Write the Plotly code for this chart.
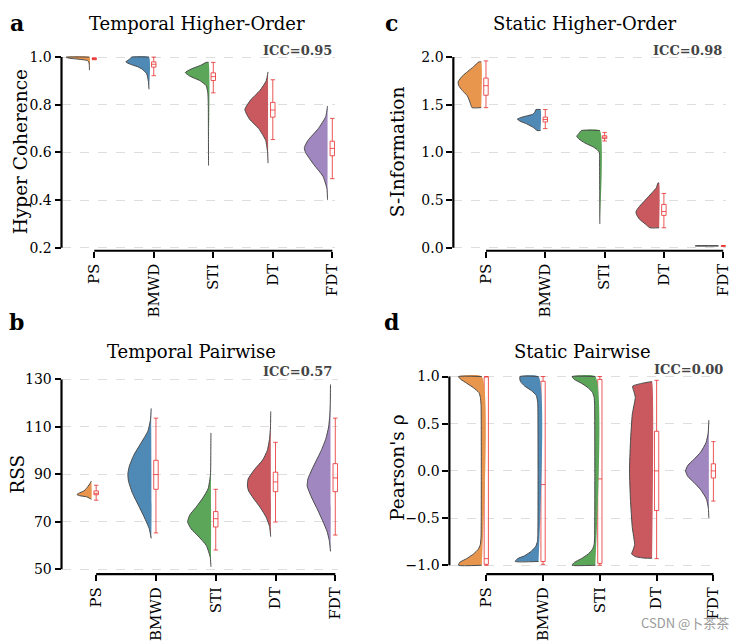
import plotly.graph_objects as go

# ---------------- data ----------------
categories = ["PS", "BMWD", "STI", "DT", "FDT"]
colors = ["#E8964E", "#4F89B6", "#5CA65A", "#C9595E", "#A087BF"]

# Panel a: Temporal Higher-Order (Hyper Coherence) - violin density profiles (y, relative width)
thc_ps_y = [0.945, 0.97, 0.98, 0.985, 0.988, 0.991, 0.994, 0.997, 1.0]
thc_ps_w = [0.0, 0.01, 0.03, 0.08, 0.2, 0.45, 0.75, 0.95, 1.0]
thc_bmwd_y = [0.865, 0.9, 0.93, 0.95, 0.96, 0.97, 0.98, 0.99, 1.0]
thc_bmwd_w = [0.0, 0.03, 0.1, 0.3, 0.5, 0.8, 1.0, 0.85, 0.75]
thc_sti_y = [0.545, 0.7, 0.8, 0.85, 0.88, 0.9, 0.92, 0.935, 0.95, 0.965, 0.978]
thc_sti_w = [0.0, 0.005, 0.01, 0.03, 0.1, 0.35, 0.8, 1.0, 0.75, 0.35, 0.1]
thc_dt_y = [0.555, 0.6, 0.65, 0.7, 0.74, 0.78, 0.82, 0.86, 0.9, 0.938]
thc_dt_w = [0.0, 0.02, 0.1, 0.4, 0.8, 1.0, 0.75, 0.35, 0.08, 0.0]
thc_fdt_y = [0.4, 0.45, 0.5, 0.55, 0.6, 0.62, 0.65, 0.7, 0.75, 0.795]
thc_fdt_w = [0.0, 0.03, 0.2, 0.6, 0.95, 1.0, 0.85, 0.4, 0.08, 0.0]
thc_q1 = [0.991, 0.958, 0.902, 0.748, 0.586]
thc_med = [0.993, 0.970, 0.918, 0.778, 0.617]
thc_q3 = [0.995, 0.980, 0.934, 0.810, 0.647]
thc_lo = [0.989, 0.922, 0.850, 0.654, 0.490]
thc_hi = [0.997, 1.000, 0.978, 0.905, 0.743]

# Panel b: Temporal Pairwise (RSS)
rss_ps_y = [79.5, 80.5, 81, 81.5, 82, 83, 84, 85, 86, 87.2]
rss_ps_w = [0.0, 0.2, 0.5, 0.62, 0.55, 0.32, 0.22, 0.14, 0.07, 0.0]
rss_bmwd_y = [63, 67, 72, 77, 82, 87, 90, 93, 98, 103, 108, 113, 117.8]
rss_bmwd_w = [0.0, 0.08, 0.3, 0.55, 0.8, 0.97, 1.0, 0.95, 0.75, 0.45, 0.15, 0.03, 0.0]
rss_sti_y = [51, 55, 60, 64, 67, 70, 73, 76, 80, 84, 90, 100, 107.5]
rss_sti_w = [0.0, 0.03, 0.2, 0.55, 0.85, 1.0, 0.9, 0.65, 0.35, 0.12, 0.02, 0.005, 0.0]
rss_dt_y = [63.7, 68, 72, 76, 80, 83, 85, 88, 92, 96, 100, 105, 110, 116.5]
rss_dt_w = [0.0, 0.05, 0.2, 0.45, 0.75, 0.95, 1.0, 0.97, 0.7, 0.35, 0.15, 0.05, 0.01, 0.0]
rss_fdt_y = [57.5, 62, 66, 70, 75, 80, 85, 88, 92, 96, 100, 105, 110, 115, 120, 127.9]
rss_fdt_w = [0.0, 0.05, 0.15, 0.32, 0.55, 0.8, 1.0, 0.97, 0.8, 0.6, 0.4, 0.2, 0.08, 0.03, 0.01, 0.0]
rss_q1 = [81.4, 83.7, 67.8, 82.7, 82.7]
rss_med = [82.0, 89.9, 71.3, 86.8, 88.5]
rss_q3 = [83.0, 95.9, 74.3, 90.9, 94.5]
rss_lo = [79.1, 65.3, 58.1, 69.9, 64.4]
rss_hi = [85.4, 113.7, 83.7, 103.5, 113.7]

# Panel c: Static Higher-Order (S-Information)
sinf_ps_y = [1.47, 1.5, 1.55, 1.6, 1.65, 1.7, 1.74, 1.8, 1.85, 1.9, 1.95]
sinf_ps_w = [0.4, 0.45, 0.52, 0.62, 0.82, 0.97, 1.0, 0.82, 0.58, 0.33, 0.1]
sinf_bmwd_y = [1.23, 1.26, 1.3, 1.33, 1.35, 1.37, 1.4, 1.42, 1.45]
sinf_bmwd_w = [0.15, 0.3, 0.6, 0.9, 1.0, 0.8, 0.35, 0.25, 0.2]
sinf_sti_y = [0.25, 0.6, 0.9, 1.0, 1.03, 1.06, 1.1, 1.14, 1.17, 1.2, 1.23]
sinf_sti_w = [0.0, 0.005, 0.01, 0.02, 0.12, 0.3, 0.65, 0.9, 1.0, 0.9, 0.8]
sinf_dt_y = [0.21, 0.25, 0.3, 0.35, 0.38, 0.42, 0.5, 0.58, 0.63, 0.68]
sinf_dt_w = [0.4, 0.6, 0.85, 0.98, 1.0, 0.9, 0.6, 0.3, 0.12, 0.05]
sinf_fdt_y = [0.019, 0.021]
sinf_fdt_w = [1.0, 1.0]
sinf_q1 = [1.60, 1.32, 1.145, 0.34, 0.02]
sinf_med = [1.70, 1.345, 1.16, 0.38, 0.02]
sinf_q3 = [1.78, 1.37, 1.175, 0.455, 0.02]
sinf_lo = [1.47, 1.25, 1.12, 0.21, 0.02]
sinf_hi = [1.96, 1.45, 1.21, 0.57, 0.02]

# Panel d: Static Pairwise (Pearson's rho)
pr_ps_y = [-1.0, -0.97, -0.93, -0.88, -0.83, -0.78, -0.7, 0.0, 0.7, 0.78, 0.83, 0.88, 0.93, 0.97, 1.0]
pr_ps_w = [1.0, 0.95, 0.65, 0.35, 0.15, 0.06, 0.03, 0.02, 0.03, 0.06, 0.12, 0.35, 0.65, 0.9, 1.0]
pr_bmwd_y = [-0.96, -0.93, -0.9, -0.85, -0.8, -0.75, -0.7, 0.0, 0.7, 0.75, 0.8, 0.85, 0.9, 0.95, 1.0]
pr_bmwd_w = [1.0, 0.9, 0.6, 0.3, 0.12, 0.05, 0.03, 0.02, 0.03, 0.05, 0.1, 0.3, 0.6, 0.78, 0.8]
pr_sti_y = [-1.0, -0.97, -0.93, -0.88, -0.83, -0.78, -0.7, 0.0, 0.7, 0.78, 0.83, 0.88, 0.93, 0.97, 1.0]
pr_sti_w = [1.0, 0.9, 0.6, 0.3, 0.12, 0.05, 0.03, 0.02, 0.03, 0.05, 0.12, 0.3, 0.6, 0.9, 1.0]
pr_dt_y = [-0.925, -0.91, -0.88, -0.84, -0.78, -0.6, -0.3, 0.0, 0.3, 0.6, 0.78, 0.84, 0.88, 0.9, 0.93, 0.945]
pr_dt_w = [0.3, 0.7, 0.88, 0.82, 0.75, 0.85, 0.93, 0.97, 0.93, 0.85, 0.72, 0.78, 0.83, 0.83, 0.4, 0.05]
pr_fdt_y = [-0.5, -0.4, -0.3, -0.2, -0.12, -0.06, 0.0, 0.06, 0.12, 0.2, 0.3, 0.4, 0.54]
pr_fdt_w = [0.0, 0.02, 0.1, 0.35, 0.65, 0.9, 1.0, 0.9, 0.65, 0.35, 0.12, 0.03, 0.0]
pr_q1 = [-0.99, -0.96, -0.98, -0.42, -0.075]
pr_med = [-0.93, -0.145, -0.085, 0.0, 0.0]
pr_q3 = [0.995, 0.95, 0.97, 0.42, 0.075]
pr_lo = [-1.0, -0.99, -1.0, -0.93, -0.32]
pr_hi = [1.0, 1.0, 1.0, 0.96, 0.31]

# ---------------- layout helpers ----------------
W, H = 752, 643
SERIF = "DejaVu Serif"


def fx(p):
    return p / W


def fy(p):
    return 1 - p / H


panels = [
    dict(ax="", letter="a", title="Temporal Higher-Order", ytitle="Hyper Coherence", icc="ICC=0.95",
         violins=[(thc_ps_y, thc_ps_w), (thc_bmwd_y, thc_bmwd_w), (thc_sti_y, thc_sti_w),
                  (thc_dt_y, thc_dt_w), (thc_fdt_y, thc_fdt_w)],
         box=(thc_q1, thc_med, thc_q3, thc_lo, thc_hi),
         xpx=(62, 338), xr=(-0.55, 4.05), ypx=(49.6, 249), yr=(0.1876, 1.0099),
         yt=[0.2, 0.4, 0.6, 0.8, 1.0], ytt=["0.2", "0.4", "0.6", "0.8", "1.0"],
         letter_xy=(17, 17), title_xy=(199, 18), ytitle_xy=(21, 148), icc_xy=(337, 45), vw=0.39),
    dict(ax="2", letter="c", title="Static Higher-Order", ytitle="S-Information", icc="ICC=0.98",
         violins=[(sinf_ps_y, sinf_ps_w), (sinf_bmwd_y, sinf_bmwd_w), (sinf_sti_y, sinf_sti_w),
                  (sinf_dt_y, sinf_dt_w), (sinf_fdt_y, sinf_fdt_w)],
         box=(sinf_q1, sinf_med, sinf_q3, sinf_lo, sinf_hi),
         xpx=(457, 732), xr=(-0.55, 4.05), ypx=(49.6, 249), yr=(-0.0309, 2.0247),
         yt=[0.0, 0.5, 1.0, 1.5, 2.0], ytt=["0.0", "0.5", "1.0", "1.5", "2.0"],
         letter_xy=(395, 17), title_xy=(590, 18), ytitle_xy=(401, 148), icc_xy=(730, 45), vw=0.39),
    dict(ax="3", letter="b", title="Temporal Pairwise", ytitle="RSS", icc="ICC=0.57",
         violins=[(rss_ps_y, rss_ps_w), (rss_bmwd_y, rss_bmwd_w), (rss_sti_y, rss_sti_w),
                  (rss_dt_y, rss_dt_w), (rss_fdt_y, rss_fdt_w)],
         box=(rss_q1, rss_med, rss_q3, rss_lo, rss_hi),
         xpx=(62, 341), xr=(-0.58, 4.05), ypx=(377.6, 578), yr=(47.93, 130.99),
         yt=[50, 70, 90, 110, 130], ytt=["50", "70", "90", "110", "130"],
         letter_xy=(17, 322), title_xy=(193, 352), ytitle_xy=(18, 476), icc_xy=(337, 372), vw=0.39),
    dict(ax="4", letter="d", title="Static Pairwise", ytitle="Pearson's ρ", icc="ICC=0.00",
         violins=[(pr_ps_y, pr_ps_w), (pr_bmwd_y, pr_bmwd_w), (pr_sti_y, pr_sti_w),
                  (pr_dt_y, pr_dt_w), (pr_fdt_y, pr_fdt_w)],
         box=(pr_q1, pr_med, pr_q3, pr_lo, pr_hi),
         xpx=(453, 722), xr=(-0.65, 4.05), ypx=(374.6, 578), yr=(-1.094, 1.025),
         yt=[-1.0, -0.5, 0.0, 0.5, 1.0], ytt=["\u22121.0", "\u22120.5", "0.0", "0.5", "1.0"],
         letter_xy=(395, 322), title_xy=(587, 352), ytitle_xy=(401, 470), icc_xy=(731, 370), vw=0.41),
]

OFF = 0.08  # gap between violin flat edge and category centre
fig = go.Figure()
annotations = []
shapes = []
layout = {}

for p in panels:
    xa = "x" + p["ax"]
    ya = "y" + p["ax"]
    for i, (vy, vw) in enumerate(p["violins"]):
        flat = i - OFF
        cx = [flat - p["vw"] * w for w in vw]
        # filled body
        fig.add_trace(go.Scatter(
            x=cx + [flat, flat], y=list(vy) + [vy[-1], vy[0]],
            fill="toself", fillcolor=colors[i], mode="lines",
            line=dict(width=0, color=colors[i], shape="spline", smoothing=0.5),
            xaxis=xa, yaxis=ya, showlegend=False, hoverinfo="skip"))
        # outline on curved side
        fig.add_trace(go.Scatter(
            x=[flat] + cx + [flat], y=[vy[0]] + list(vy) + [vy[-1]],
            mode="lines", line=dict(width=1, color="#4a4a4a", shape="spline", smoothing=0.5),
            xaxis=xa, yaxis=ya, showlegend=False, hoverinfo="skip"))
    q1, med, q3, lo, hi = p["box"]
    for i in range(len(categories)):
        fig.add_trace(go.Box(
            x=[i], q1=[q1[i]], median=[med[i]], q3=[q3[i]],
            lowerfence=[lo[i]], upperfence=[hi[i]],
            width=0.075, whiskerwidth=1, boxpoints=False,
            line=dict(color="rgba(232,45,45,0.8)", width=1),
            fillcolor="rgba(255,255,255,0.6)",
            xaxis=xa, yaxis=ya, showlegend=False, hoverinfo="skip"))

    x0, x1 = p["xpx"]
    y0, y1 = p["ypx"]
    layout["xaxis" + p["ax"]] = dict(
        domain=[fx(x0), fx(x1)], range=list(p["xr"]), anchor=ya,
        tickvals=list(range(len(categories))), ticktext=categories, tickangle=-90,
        ticks="outside", ticklen=6, tickwidth=1.5, tickcolor="black",
        showgrid=False, zeroline=False, showline=False,
        tickfont=dict(family=SERIF, size=15, color="black"))
    layout["yaxis" + p["ax"]] = dict(
        domain=[fy(y1), fy(y0)], range=list(p["yr"]), anchor=xa,
        tickvals=p["yt"], ticktext=p["ytt"],
        ticks="outside", ticklen=6, tickwidth=1.5, tickcolor="black",
        showgrid=True, gridcolor="#dedede", griddash="dash", gridwidth=1,
        zeroline=False, showline=False,
        tickfont=dict(family=SERIF, size=14, color="black"))
    # trimmed spines
    shapes.append(dict(type="line", xref="paper", yref=ya, x0=fx(x0), x1=fx(x0),
                       y0=p["yt"][0], y1=p["yt"][-1], line=dict(color="black", width=2.2)))
    shapes.append(dict(type="line", xref=xa, yref="paper", x0=0, x1=len(categories) - 1,
                       y0=fy(y1), y1=fy(y1), line=dict(color="black", width=2.2)))
    # texts
    lx, ly = p["letter_xy"]
    annotations.append(dict(text="<b>" + p["letter"] + "</b>", x=fx(lx), y=fy(ly), xref="paper", yref="paper",
                            showarrow=False, xanchor="center", yanchor="middle",
                            font=dict(family=SERIF, size=22, color="black")))
    tx, ty = p["title_xy"]
    annotations.append(dict(text=p["title"], x=fx(tx), y=fy(ty), xref="paper", yref="paper",
                            showarrow=False, xanchor="center", yanchor="middle",
                            font=dict(family=SERIF, size=18, color="black")))
    yx, yy = p["ytitle_xy"]
    annotations.append(dict(text=p["ytitle"], x=fx(yx), y=fy(yy), xref="paper", yref="paper",
                            showarrow=False, xanchor="center", yanchor="middle", textangle=-90,
                            font=dict(family=SERIF, size=18.5, color="black")))
    ix, iy = p["icc_xy"]
    annotations.append(dict(text="<b>" + p["icc"] + "</b>", x=fx(ix), y=fy(iy), xref="paper", yref="paper",
                            showarrow=False, xanchor="right", yanchor="middle",
                            font=dict(family=SERIF, size=13, color="#444444")))

annotations.append(dict(text="CSDN @卜茶茶", x=fx(737), y=fy(627), xref="paper", yref="paper",
                        showarrow=False, xanchor="right", yanchor="middle",
                        font=dict(family="Noto Sans CJK SC", size=13, color="#9a9a9a")))

fig.update_layout(
    width=W, height=H, margin=dict(l=0, r=0, t=0, b=0),
    paper_bgcolor="white", plot_bgcolor="white",
    annotations=annotations, shapes=shapes, showlegend=False,
    **layout)

fig.write_html("out.html", config={"displayModeBar": False},
               post_script="document.body.style.margin='0px';")
